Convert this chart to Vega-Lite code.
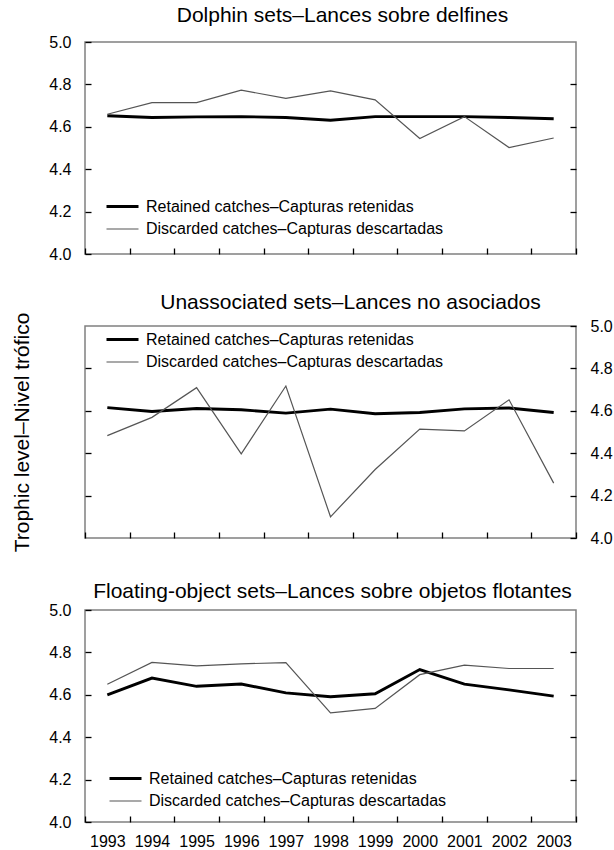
{
  "$schema": "https://vega.github.io/schema/vega-lite/v6.json",
  "padding": {"left": 10, "top": 4, "right": 0, "bottom": 0},
  "background": "white",
  "bounds": "flush",
  "spacing": 72,
  "config": {
    "font": "Liberation Sans",
    "view": {"stroke": "#808080", "strokeWidth": 1.5},
    "axis": {"domain": false, "grid": false, "labelFont": "Liberation Sans", "labelFontSize": 16, "labelColor": "#000000", "tickColor": "#000000", "tickWidth": 1.3, "titleFont": "Liberation Sans", "titleFontWeight": "normal", "titleColor": "#000000"},
    "title": {"font": "Liberation Sans", "fontSize": 21, "fontWeight": "normal", "color": "#000000", "anchor": "middle"},
    "legend": {"labelFont": "Liberation Sans", "labelFontSize": 16, "labelColor": "#000000", "labelLimit": 400, "padding": 0, "rowPadding": 3}
  },
  "resolve": {"scale": {"color": "independent", "strokeWidth": "independent"}, "legend": {"color": "independent", "strokeWidth": "independent"}},
  "datasets": {
    "tl": [
      {"set": "Dolphin", "series": "Retained catches–Capturas retenidas", "year": "1993", "value": 4.652},
      {"set": "Dolphin", "series": "Retained catches–Capturas retenidas", "year": "1994", "value": 4.644},
      {"set": "Dolphin", "series": "Retained catches–Capturas retenidas", "year": "1995", "value": 4.647},
      {"set": "Dolphin", "series": "Retained catches–Capturas retenidas", "year": "1996", "value": 4.648},
      {"set": "Dolphin", "series": "Retained catches–Capturas retenidas", "year": "1997", "value": 4.644},
      {"set": "Dolphin", "series": "Retained catches–Capturas retenidas", "year": "1998", "value": 4.631},
      {"set": "Dolphin", "series": "Retained catches–Capturas retenidas", "year": "1999", "value": 4.648},
      {"set": "Dolphin", "series": "Retained catches–Capturas retenidas", "year": "2000", "value": 4.648},
      {"set": "Dolphin", "series": "Retained catches–Capturas retenidas", "year": "2001", "value": 4.648},
      {"set": "Dolphin", "series": "Retained catches–Capturas retenidas", "year": "2002", "value": 4.644},
      {"set": "Dolphin", "series": "Retained catches–Capturas retenidas", "year": "2003", "value": 4.638},
      {"set": "Dolphin", "series": "Discarded catches–Capturas descartadas", "year": "1993", "value": 4.659},
      {"set": "Dolphin", "series": "Discarded catches–Capturas descartadas", "year": "1994", "value": 4.714},
      {"set": "Dolphin", "series": "Discarded catches–Capturas descartadas", "year": "1995", "value": 4.714},
      {"set": "Dolphin", "series": "Discarded catches–Capturas descartadas", "year": "1996", "value": 4.773},
      {"set": "Dolphin", "series": "Discarded catches–Capturas descartadas", "year": "1997", "value": 4.734},
      {"set": "Dolphin", "series": "Discarded catches–Capturas descartadas", "year": "1998", "value": 4.769},
      {"set": "Dolphin", "series": "Discarded catches–Capturas descartadas", "year": "1999", "value": 4.727},
      {"set": "Dolphin", "series": "Discarded catches–Capturas descartadas", "year": "2000", "value": 4.545},
      {"set": "Dolphin", "series": "Discarded catches–Capturas descartadas", "year": "2001", "value": 4.648},
      {"set": "Dolphin", "series": "Discarded catches–Capturas descartadas", "year": "2002", "value": 4.502},
      {"set": "Dolphin", "series": "Discarded catches–Capturas descartadas", "year": "2003", "value": 4.547},
      {"set": "Unassociated", "series": "Retained catches–Capturas retenidas", "year": "1993", "value": 4.615},
      {"set": "Unassociated", "series": "Retained catches–Capturas retenidas", "year": "1994", "value": 4.597},
      {"set": "Unassociated", "series": "Retained catches–Capturas retenidas", "year": "1995", "value": 4.611},
      {"set": "Unassociated", "series": "Retained catches–Capturas retenidas", "year": "1996", "value": 4.605},
      {"set": "Unassociated", "series": "Retained catches–Capturas retenidas", "year": "1997", "value": 4.589},
      {"set": "Unassociated", "series": "Retained catches–Capturas retenidas", "year": "1998", "value": 4.608},
      {"set": "Unassociated", "series": "Retained catches–Capturas retenidas", "year": "1999", "value": 4.586},
      {"set": "Unassociated", "series": "Retained catches–Capturas retenidas", "year": "2000", "value": 4.592},
      {"set": "Unassociated", "series": "Retained catches–Capturas retenidas", "year": "2001", "value": 4.609},
      {"set": "Unassociated", "series": "Retained catches–Capturas retenidas", "year": "2002", "value": 4.613},
      {"set": "Unassociated", "series": "Retained catches–Capturas retenidas", "year": "2003", "value": 4.592},
      {"set": "Unassociated", "series": "Discarded catches–Capturas descartadas", "year": "1993", "value": 4.483},
      {"set": "Unassociated", "series": "Discarded catches–Capturas descartadas", "year": "1994", "value": 4.569},
      {"set": "Unassociated", "series": "Discarded catches–Capturas descartadas", "year": "1995", "value": 4.709},
      {"set": "Unassociated", "series": "Discarded catches–Capturas descartadas", "year": "1996", "value": 4.397},
      {"set": "Unassociated", "series": "Discarded catches–Capturas descartadas", "year": "1997", "value": 4.717},
      {"set": "Unassociated", "series": "Discarded catches–Capturas descartadas", "year": "1998", "value": 4.100},
      {"set": "Unassociated", "series": "Discarded catches–Capturas descartadas", "year": "1999", "value": 4.323},
      {"set": "Unassociated", "series": "Discarded catches–Capturas descartadas", "year": "2000", "value": 4.514},
      {"set": "Unassociated", "series": "Discarded catches–Capturas descartadas", "year": "2001", "value": 4.505},
      {"set": "Unassociated", "series": "Discarded catches–Capturas descartadas", "year": "2002", "value": 4.652},
      {"set": "Unassociated", "series": "Discarded catches–Capturas descartadas", "year": "2003", "value": 4.259},
      {"set": "Floating", "series": "Retained catches–Capturas retenidas", "year": "1993", "value": 4.600},
      {"set": "Floating", "series": "Retained catches–Capturas retenidas", "year": "1994", "value": 4.679},
      {"set": "Floating", "series": "Retained catches–Capturas retenidas", "year": "1995", "value": 4.640},
      {"set": "Floating", "series": "Retained catches–Capturas retenidas", "year": "1996", "value": 4.651},
      {"set": "Floating", "series": "Retained catches–Capturas retenidas", "year": "1997", "value": 4.609},
      {"set": "Floating", "series": "Retained catches–Capturas retenidas", "year": "1998", "value": 4.591},
      {"set": "Floating", "series": "Retained catches–Capturas retenidas", "year": "1999", "value": 4.605},
      {"set": "Floating", "series": "Retained catches–Capturas retenidas", "year": "2000", "value": 4.719},
      {"set": "Floating", "series": "Retained catches–Capturas retenidas", "year": "2001", "value": 4.650},
      {"set": "Floating", "series": "Retained catches–Capturas retenidas", "year": "2002", "value": 4.623},
      {"set": "Floating", "series": "Retained catches–Capturas retenidas", "year": "2003", "value": 4.594},
      {"set": "Floating", "series": "Discarded catches–Capturas descartadas", "year": "1993", "value": 4.650},
      {"set": "Floating", "series": "Discarded catches–Capturas descartadas", "year": "1994", "value": 4.753},
      {"set": "Floating", "series": "Discarded catches–Capturas descartadas", "year": "1995", "value": 4.736},
      {"set": "Floating", "series": "Discarded catches–Capturas descartadas", "year": "1996", "value": 4.746},
      {"set": "Floating", "series": "Discarded catches–Capturas descartadas", "year": "1997", "value": 4.752},
      {"set": "Floating", "series": "Discarded catches–Capturas descartadas", "year": "1998", "value": 4.515},
      {"set": "Floating", "series": "Discarded catches–Capturas descartadas", "year": "1999", "value": 4.536},
      {"set": "Floating", "series": "Discarded catches–Capturas descartadas", "year": "2000", "value": 4.695},
      {"set": "Floating", "series": "Discarded catches–Capturas descartadas", "year": "2001", "value": 4.740},
      {"set": "Floating", "series": "Discarded catches–Capturas descartadas", "year": "2002", "value": 4.724},
      {"set": "Floating", "series": "Discarded catches–Capturas descartadas", "year": "2003", "value": 4.724}
    ]
  },
  "vconcat": [
    {
      "title": {"text": "Dolphin sets–Lances sobre delfines", "dx": 12, "offset": 8},
      "width": 491,
      "height": 212,
      "data": {"name": "tl"},
      "transform": [{"filter": "datum.set === 'Dolphin'"}],
      "layer": [
        {
          "transform": [{"filter": "datum.series === 'Retained catches–Capturas retenidas'"}],
          "mark": {"type": "line"},
          "encoding": {
            "x": {"field": "year", "type": "ordinal", "bandPosition": 0.5, "scale": {"type": "band", "paddingInner": 0, "paddingOuter": 0}, "axis": {"title": null, "tickBand": "extent", "tickSize": -6, "labels": false}},
            "y": {"field": "value", "type": "quantitative", "scale": {"domain": [4, 5], "nice": false, "zero": false}, "axis": {"orient": "left", "title": null, "values": [4, 4.2, 4.4, 4.6, 4.8, 5], "format": ".1f", "tickSize": -6, "labelPadding": 20}},
            "color": {"field": "series", "type": "nominal", "scale": {"domain": ["Retained catches–Capturas retenidas", "Discarded catches–Capturas descartadas"], "range": ["#000000", "#555555"]}, "legend": {"title": null, "orient": "none", "legendX": 26, "legendY": 153, "symbolType": "M-1.6,0H1.6", "symbolSize": 400, "labelOffset": 12}},
            "strokeWidth": {"field": "series", "type": "nominal", "scale": {"domain": ["Retained catches–Capturas retenidas", "Discarded catches–Capturas descartadas"], "range": [2.9, 1.2]}, "legend": {"title": null, "orient": "none", "legendX": 26, "legendY": 153, "symbolType": "M-1.6,0H1.6", "symbolSize": 400, "labelOffset": 12}}
          }
        },
        {
          "transform": [{"filter": "datum.series === 'Discarded catches–Capturas descartadas'"}],
          "mark": {"type": "line"},
          "encoding": {
            "x": {"field": "year", "type": "ordinal", "bandPosition": 0.5, "scale": {"type": "band", "paddingInner": 0, "paddingOuter": 0}, "axis": {"title": null, "tickBand": "extent", "tickSize": -6, "labels": false}},
            "y": {"field": "value", "type": "quantitative", "scale": {"domain": [4, 5], "nice": false, "zero": false}, "axis": {"orient": "right", "title": null, "values": [4.2, 4.4, 4.6, 4.8], "labels": false, "tickSize": -6}},
            "color": {"field": "series", "type": "nominal", "scale": {"domain": ["Retained catches–Capturas retenidas", "Discarded catches–Capturas descartadas"], "range": ["#000000", "#555555"]}, "legend": {"title": null, "orient": "none", "legendX": 26, "legendY": 153, "symbolType": "M-1.6,0H1.6", "symbolSize": 400, "labelOffset": 12}},
            "strokeWidth": {"field": "series", "type": "nominal", "scale": {"domain": ["Retained catches–Capturas retenidas", "Discarded catches–Capturas descartadas"], "range": [2.9, 1.2]}, "legend": {"title": null, "orient": "none", "legendX": 26, "legendY": 153, "symbolType": "M-1.6,0H1.6", "symbolSize": 400, "labelOffset": 12}}
          }
        }
      ],
      "resolve": {"axis": {"y": "independent"}}
    },
    {
      "title": {"text": "Unassociated sets–Lances no asociados", "dx": 20, "offset": -1},
      "width": 491,
      "height": 212,
      "data": {"name": "tl"},
      "transform": [{"filter": "datum.set === 'Unassociated'"}],
      "layer": [
        {
          "transform": [{"filter": "datum.series === 'Retained catches–Capturas retenidas'"}],
          "mark": {"type": "line"},
          "encoding": {
            "x": {"field": "year", "type": "ordinal", "bandPosition": 0.5, "scale": {"type": "band", "paddingInner": 0, "paddingOuter": 0}, "axis": {"title": null, "tickBand": "extent", "tickSize": -6, "labels": false}},
            "y": {"field": "value", "type": "quantitative", "scale": {"domain": [4, 5], "nice": false, "zero": false}, "axis": {"orient": "left", "title": "Trophic level–Nivel trófico", "titleFontSize": 21, "titlePadding": 52, "values": [4.2, 4.4, 4.6, 4.8], "labels": false, "tickSize": -6}},
            "color": {"field": "series", "type": "nominal", "scale": {"domain": ["Retained catches–Capturas retenidas", "Discarded catches–Capturas descartadas"], "range": ["#000000", "#555555"]}, "legend": {"title": null, "orient": "none", "legendX": 26, "legendY": 2, "symbolType": "M-1.6,0H1.6", "symbolSize": 400, "labelOffset": 12}},
            "strokeWidth": {"field": "series", "type": "nominal", "scale": {"domain": ["Retained catches–Capturas retenidas", "Discarded catches–Capturas descartadas"], "range": [2.9, 1.2]}, "legend": {"title": null, "orient": "none", "legendX": 26, "legendY": 2, "symbolType": "M-1.6,0H1.6", "symbolSize": 400, "labelOffset": 12}}
          }
        },
        {
          "transform": [{"filter": "datum.series === 'Discarded catches–Capturas descartadas'"}],
          "mark": {"type": "line"},
          "encoding": {
            "x": {"field": "year", "type": "ordinal", "bandPosition": 0.5, "scale": {"type": "band", "paddingInner": 0, "paddingOuter": 0}, "axis": {"title": null, "tickBand": "extent", "tickSize": -6, "labels": false}},
            "y": {"field": "value", "type": "quantitative", "scale": {"domain": [4, 5], "nice": false, "zero": false}, "axis": {"orient": "right", "title": null, "values": [4, 4.2, 4.4, 4.6, 4.8, 5], "format": ".1f", "tickSize": -6, "labelPadding": 20}},
            "color": {"field": "series", "type": "nominal", "scale": {"domain": ["Retained catches–Capturas retenidas", "Discarded catches–Capturas descartadas"], "range": ["#000000", "#555555"]}, "legend": {"title": null, "orient": "none", "legendX": 26, "legendY": 2, "symbolType": "M-1.6,0H1.6", "symbolSize": 400, "labelOffset": 12}},
            "strokeWidth": {"field": "series", "type": "nominal", "scale": {"domain": ["Retained catches–Capturas retenidas", "Discarded catches–Capturas descartadas"], "range": [2.9, 1.2]}, "legend": {"title": null, "orient": "none", "legendX": 26, "legendY": 2, "symbolType": "M-1.6,0H1.6", "symbolSize": 400, "labelOffset": 12}}
          }
        }
      ],
      "resolve": {"axis": {"y": "independent"}}
    },
    {
      "title": {"text": "Floating-object sets–Lances sobre objetos flotantes", "dx": 2, "offset": 0},
      "width": 491,
      "height": 212,
      "data": {"name": "tl"},
      "transform": [{"filter": "datum.set === 'Floating'"}],
      "layer": [
        {
          "transform": [{"filter": "datum.series === 'Retained catches–Capturas retenidas'"}],
          "mark": {"type": "line"},
          "encoding": {
            "x": {"field": "year", "type": "ordinal", "bandPosition": 0.5, "scale": {"type": "band", "paddingInner": 0, "paddingOuter": 0}, "axis": {"title": null, "tickBand": "extent", "tickSize": -6, "labelAngle": 0, "labelPadding": 17}},
            "y": {"field": "value", "type": "quantitative", "scale": {"domain": [4, 5], "nice": false, "zero": false}, "axis": {"orient": "left", "title": null, "values": [4, 4.2, 4.4, 4.6, 4.8, 5], "format": ".1f", "tickSize": -6, "labelPadding": 20}},
            "color": {"field": "series", "type": "nominal", "scale": {"domain": ["Retained catches–Capturas retenidas", "Discarded catches–Capturas descartadas"], "range": ["#000000", "#555555"]}, "legend": {"title": null, "orient": "none", "legendX": 29, "legendY": 157, "symbolType": "M-1.6,0H1.6", "symbolSize": 400, "labelOffset": 12}},
            "strokeWidth": {"field": "series", "type": "nominal", "scale": {"domain": ["Retained catches–Capturas retenidas", "Discarded catches–Capturas descartadas"], "range": [2.9, 1.2]}, "legend": {"title": null, "orient": "none", "legendX": 29, "legendY": 157, "symbolType": "M-1.6,0H1.6", "symbolSize": 400, "labelOffset": 12}}
          }
        },
        {
          "transform": [{"filter": "datum.series === 'Discarded catches–Capturas descartadas'"}],
          "mark": {"type": "line"},
          "encoding": {
            "x": {"field": "year", "type": "ordinal", "bandPosition": 0.5, "scale": {"type": "band", "paddingInner": 0, "paddingOuter": 0}, "axis": {"title": null, "tickBand": "extent", "tickSize": -6, "labelAngle": 0, "labelPadding": 17}},
            "y": {"field": "value", "type": "quantitative", "scale": {"domain": [4, 5], "nice": false, "zero": false}, "axis": {"orient": "right", "title": null, "values": [4.2, 4.4, 4.6, 4.8], "labels": false, "tickSize": -6}},
            "color": {"field": "series", "type": "nominal", "scale": {"domain": ["Retained catches–Capturas retenidas", "Discarded catches–Capturas descartadas"], "range": ["#000000", "#555555"]}, "legend": {"title": null, "orient": "none", "legendX": 29, "legendY": 157, "symbolType": "M-1.6,0H1.6", "symbolSize": 400, "labelOffset": 12}},
            "strokeWidth": {"field": "series", "type": "nominal", "scale": {"domain": ["Retained catches–Capturas retenidas", "Discarded catches–Capturas descartadas"], "range": [2.9, 1.2]}, "legend": {"title": null, "orient": "none", "legendX": 29, "legendY": 157, "symbolType": "M-1.6,0H1.6", "symbolSize": 400, "labelOffset": 12}}
          }
        }
      ],
      "resolve": {"axis": {"y": "independent"}}
    }
  ]
}
